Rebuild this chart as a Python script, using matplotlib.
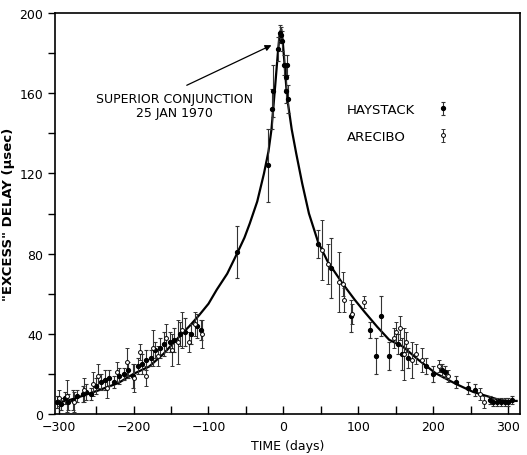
import numpy as np
import matplotlib
matplotlib.use("Agg")
import matplotlib.pyplot as plt

# fitted delay curve (days, microseconds)
curve_t = [-305, -299, -280, -245, -220, -200, -179, -160, -139, -125, -112, -100, -89, -75, -62,
           -52, -45, -35, -26, -20, -16, -11, -7.5, -5, -3, -1, 2, 4, 6, 11, 17, 25, 34, 46, 59,
           79, 95, 108, 125, 141, 159, 180, 203, 230, 253, 275, 288, 300, 311]
curve_v = [5.5, 5.8, 7.5, 12, 15.5, 20, 23.7, 30, 38.6, 44, 49.5, 55, 62, 70, 80,
           88, 95, 106, 120, 131, 142, 164, 180, 190, 192, 186, 172, 162, 155, 142, 130, 115, 100, 86, 76,
           65, 57, 51, 43.5, 37, 33.7, 27, 20.3, 15, 11, 8.5, 7, 6.5, 6.5]

# Haystack measurements (filled)
hay_t = [-302, -297, -292, -287, -281, -275, -268, -263, -257, -250, -244, -238, -233, -226,
         -219, -213, -207, -201, -194, -189, -183, -177, -171, -165, -159, -152, -146, -138,
         -131, -124, -116, -110, -62, -21, -15, -14, -7, -5, -3, -2, 1, 3, 4, 5, 6,
         46, 64, 90, 116, 124, 130, 141, 153, 158, 166, 190, 200, 212, 216, 230, 246, 255,
         275, 280, 285, 290, 295, 300, 305]
hay_v = [6, 5, 8, 6, 7, 9, 10, 11, 10, 14, 16, 17, 18, 16,
         19, 20, 22, 19, 24, 25, 27, 28, 32, 33, 35, 36, 37, 40,
         41, 40, 44, 42, 81, 124, 152, 161, 182, 190, 189, 186, 174, 168, 161, 174, 157,
         85, 73, 49, 42, 29, 49, 29, 35, 30, 28, 24, 20, 22, 21, 16, 13, 12,
         7, 6, 6, 6, 6, 6, 7]
hay_e = [3, 3, 3, 4, 5, 3, 4, 4, 3, 4, 4, 5, 4, 3,
         4, 3, 4, 6, 4, 5, 5, 4, 4, 5, 6, 5, 6, 6,
         7, 5, 6, 5, 13, 18, 10, 13, 6, 4, 4, 5, 5, 6, 6, 5, 7,
         7, 15, 8, 4, 9, 10, 7, 5, 8, 5, 4, 4, 3, 3, 3, 3, 3,
         2, 2, 2, 2, 2, 2, 2]

# Arecibo measurements (open)
are_t = [-299, -289, -279, -266, -254, -247, -236, -222, -209, -199, -191, -184, -174, -168,
         -157, -149, -141, -135, -126, -118, -109,
         52, 59, 74, 79, 81, 92, 108, 148, 150, 155, 161, 163, 172, 177, 185, 207, 220, 262, 268]
are_v = [8, 9, 6, 12, 15, 19, 13, 21, 26, 18, 31, 19, 33, 29,
         38, 32, 36, 42, 36, 45, 40,
         82, 75, 66, 65, 57, 50, 56, 38, 41, 43, 30, 36, 27, 30, 27, 24, 19, 10, 6]
are_e = [4, 8, 5, 6, 6, 6, 5, 5, 7, 7, 4, 5, 9, 5,
         7, 8, 11, 9, 5, 6, 7,
         15, 10, 15, 6, 6, 5, 3, 5, 5, 6, 13, 5, 9, 5, 6, 3, 3, 3, 3]

series_names = ['HAYSTACK', 'ARECIBO']
xticks = [-300, -200, -100, 0, 100, 200, 300]
yticks = [0, 40, 80, 120, 160, 200]

plt.rcParams['font.family'] = ['DejaVu Sans']
fig = plt.figure(figsize=(5.27, 4.56), dpi=100)
ax = fig.add_axes([0.104, 0.09, 0.882, 0.879])

ax.plot(curve_t, curve_v, color='black', lw=1.6, zorder=2)
h1 = ax.errorbar(hay_t, hay_v, yerr=hay_e, fmt='o', ms=2.8, mfc='black', mec='black',
                 ecolor='#333333', elinewidth=0.8, capsize=1.2, capthick=0.8, zorder=3)
h2 = ax.errorbar(are_t, are_v, yerr=are_e, fmt='o', ms=2.8, mfc='white', mec='black', mew=0.7,
                 ecolor='#333333', elinewidth=0.8, capsize=1.2, capthick=0.8, zorder=3)

ax.set_xlim(-305, 315)
ax.set_ylim(0, 200)
ax.set_xticks(xticks)
ax.set_xticks(np.arange(-300, 301, 50), minor=True)
ax.set_yticks(yticks)
ax.set_yticks(np.arange(20, 200, 40), minor=True)
ax.tick_params(axis='x', which='both', direction='in', length=6, width=1, labelsize=9, pad=4)
ax.tick_params(axis='y', which='both', direction='out', length=5, width=1, labelsize=9)
for s in ax.spines.values():
    s.set_linewidth(1.2)

ax.set_xlabel('TIME (days)', fontsize=9, labelpad=5)
ax.set_ylabel('"EXCESS" DELAY (\u03bcsec)', fontsize=9.5, fontweight='bold')
ax.yaxis.set_label_coords(-0.085, 0.5)

ax.text(-145, 154, 'SUPERIOR CONJUNCTION\n25 JAN 1970', ha='center', va='center',
        fontsize=9, linespacing=1.1)
ax.annotate('', xy=(-16, 184), xytext=(-129, 164),
            arrowprops=dict(arrowstyle='-|>', color='black', lw=0.9, mutation_scale=9,
                            shrinkA=0, shrinkB=0))

# legend: names left-aligned, symbols in a column to the right
for i, name in enumerate(series_names):
    ax.text(0.628, 0.76 - i * 0.0675, name, transform=ax.transAxes, ha='left', va='center',
            fontsize=9.5)
ax.legend(handles=[h1, h2], labels=['', ''], loc='center', bbox_to_anchor=(0.835, 0.726),
          frameon=False, handlelength=0.8, handletextpad=0.0, labelspacing=1.05, fontsize=9.5,
          borderpad=0, borderaxespad=0)

fig.savefig('out.png', dpi=100)
